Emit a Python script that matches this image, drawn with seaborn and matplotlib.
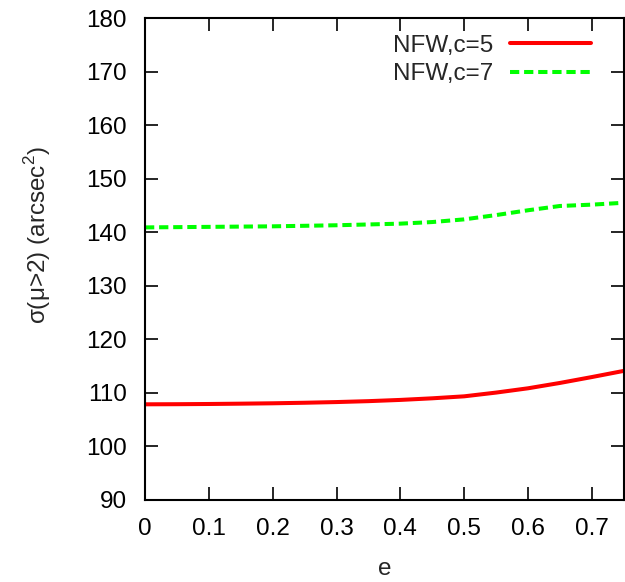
import numpy as np
import pandas as pd
import matplotlib
matplotlib.use("Agg")
import matplotlib.pyplot as plt
import seaborn as sns
from matplotlib.lines import Line2D

# data
e_c5 = [0.0, 0.05, 0.1, 0.15, 0.2, 0.25, 0.3, 0.35, 0.4, 0.45, 0.5, 0.55, 0.6, 0.65, 0.7, 0.75]
nfw_c5 = [107.86, 107.88, 107.92, 107.98, 108.05, 108.15, 108.28, 108.45, 108.68, 108.98,
          109.35, 110.05, 110.85, 111.85, 112.95, 114.1]
e_c7 = [0.0, 0.1, 0.2, 0.3, 0.4, 0.45, 0.5, 0.55, 0.6, 0.65, 0.7, 0.75]
nfw_c7 = [140.9, 141.0, 141.1, 141.3, 141.6, 141.9, 142.4, 143.2, 144.1, 144.9, 145.15, 145.5]
series_names = ["NFW,c=5", "NFW,c=7"]
xtick_labels = ["0", "0.1", "0.2", "0.3", "0.4", "0.5", "0.6", "0.7"]

df = pd.DataFrame({
    "e": e_c5 + e_c7,
    "sigma": nfw_c5 + nfw_c7,
    "model": [series_names[0]] * len(e_c5) + [series_names[1]] * len(e_c7),
})

sns.set_style("ticks")
plt.rcParams["font.family"] = ["Liberation Sans", "DejaVu Sans"]
plt.rcParams["mathtext.fontset"] = "custom"
plt.rcParams["mathtext.rm"] = "Liberation Sans"

FS = 17.5
fig = plt.figure(figsize=(6.25, 5.82), dpi=100)
ax = fig.add_axes([0.232, 0.141, 0.766, 0.828])

red, green = "#ff0000", "#00ff00"
dash = (2.3, 1.2)
sns.lineplot(data=df, x="e", y="sigma", hue="model", style="model",
             palette={series_names[0]: red, series_names[1]: green},
             dashes={series_names[0]: "", series_names[1]: dash},
             linewidth=2.9, ax=ax, legend=False)

ax.set_xlim(0, 0.75)
ax.set_ylim(90, 180)
ax.set_xticks(np.arange(0, 0.71, 0.1))
ax.set_xticklabels(xtick_labels)
ax.set_yticks(np.arange(90, 181, 10))
ax.tick_params(direction="in", length=9.5, width=1.2, top=True, right=True,
               labelsize=FS, colors="black", pad=13)
for s in ax.spines.values():
    s.set_linewidth(1.5)
    s.set_color("black")

ax.set_xlabel("e", fontsize=FS, labelpad=13)
ax.set_ylabel(r"σ(μ>2) (arcsec$^2$)", fontsize=FS, va="center")
ax.yaxis.set_label_coords(-0.225, 0.55)

handles = [Line2D([], [], color=red, lw=2.9),
           Line2D([], [], color=green, lw=2.9, dashes=dash)]
ax.legend(handles, series_names, loc="upper right", frameon=False,
          markerfirst=False, fontsize=FS, handlelength=3.3, handletextpad=0.7,
          labelspacing=0.28, borderaxespad=0.0, bbox_to_anchor=(0.951, 0.986))

fig.savefig("out.png", dpi=100)
